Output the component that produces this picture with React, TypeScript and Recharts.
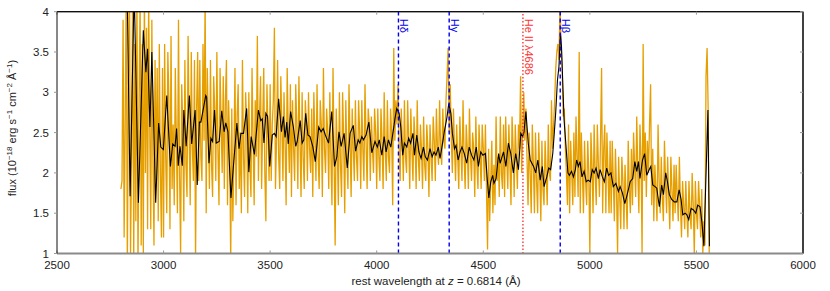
import React from 'react';
import { LineChart, Line, XAxis, YAxis, ReferenceLine } from 'recharts';

const FONT = '"Liberation Sans", Arial, sans-serif';

// raw spectrum, sampled every 5 Å from 2800 Å (rest frame)
const rawStart = 2800;
const rawStep = 5;
const rawFlux = [
  1.8, 1.9, 3.9, 1.2, 2.6, 4.4, 0.8, 3.1, 4.5, 1.0, 2.2, 4.4, 0.9, 3.6, 1.4, 4.3, 0.8, 2.9, 4.2, 1.1,
  3.6, 1.0, 4.3, 2.0, 3.8, 1.3, 4.2, 2.6, 1.3, 3.9, 2.2, 1.1, 3.4, 1.9, 3.3, 1.4, 3.6, 2.0, 1.2, 3.3,
  1.2, 3.6, 2.2, 1.5, 3.5, 2.9, 1.3, 3.7, 1.8, 2.6, 1.6, 3.3, 2.4, 1.5, 3.9, 2.0, 1.0, 3.1, 2.6, 1.4,
  3.4, 2.1, 1.7, 3.7, 2.5, 1.6, 3.5, 2.3, 1.9, 3.4, 0.9, 2.8, 3.5, 1.9, 3.4, 2.2, 1.9, 3.6, 2.4, 4.2,
  1.5, 3.3, 2.6, 1.8, 3.4, 2.1, 1.7, 3.2, 2.8, 1.9, 3.5, 2.3, 1.6, 3.3, 2.6, 2.0, 3.2, 1.8, 2.9, 3.4,
  1.6, 2.9, 2.4, 0.9, 2.8, 1.4, 2.2, 3.3, 1.6, 2.7, 3.1, 1.8, 2.5, 1.5, 3.4, 2.2, 1.7, 3.0, 2.6, 1.5,
  3.0, 2.1, 1.7, 3.3, 2.4, 1.6, 2.9, 2.2, 3.7, 1.9, 2.7, 3.2, 1.8, 2.6, 3.3, 2.0, 1.4, 3.1, 2.5, 1.9,
  3.1, 1.9, 2.6, 2.9, 3.8, 1.8, 2.4, 3.4, 2.2, 1.8, 3.2, 2.6, 1.9, 3.0, 2.4, 1.6, 3.3, 2.5, 2.0, 3.1,
  1.7, 2.9, 2.3, 1.9, 3.1, 2.6, 1.8, 3.2, 2.4, 1.7, 3.0, 2.2, 1.8, 2.9, 2.6, 1.9, 3.0, 2.3, 2.0, 2.8,
  1.7, 3.0, 2.4, 1.9, 3.1, 2.2, 1.8, 2.9, 2.6, 1.7, 3.3, 2.3, 2.0, 2.8, 2.5, 1.8, 3.0, 2.2, 1.6, 3.3,
  2.2, 1.1, 2.8, 2.3, 1.6, 3.0, 2.1, 1.7, 3.0, 2.4, 1.5, 2.9, 2.2, 1.8, 3.1, 2.4, 1.7, 2.8, 2.3, 1.9,
  2.9, 2.2, 1.9, 2.9, 2.5, 1.8, 2.9, 2.3, 1.9, 3.1, 2.4, 1.8, 2.8, 2.6, 1.9, 2.7, 2.3, 2.0, 2.8, 2.5,
  1.8, 2.8, 2.2, 1.9, 2.8, 2.4, 1.8, 3.0, 2.3, 1.9, 2.9, 2.2, 2.0, 2.8, 2.5, 1.6, 3.55, 2.4, 2.9, 2.6,
  3.1, 2.3, 1.9, 2.8, 2.4, 1.9, 2.9, 2.2, 2.0, 2.9, 2.4, 1.8, 2.8, 2.3, 1.9, 2.7, 2.4, 1.8, 2.9, 2.2,
  1.9, 2.6, 2.3, 1.8, 2.7, 2.1, 1.9, 2.6, 2.3, 1.7, 2.6, 2.2, 1.9, 2.7, 2.4, 1.9, 2.8, 2.3, 2.1, 2.9,
  2.3, 2.1, 2.8, 2.4, 2.3, 2.9, 3.2, 3.55, 2.5, 3.1, 2.4, 2.0, 2.8, 2.3, 1.9, 2.6, 2.2, 1.8, 2.7, 2.3,
  1.9, 2.9, 2.2, 1.8, 2.6, 2.3, 1.8, 2.8, 2.2, 1.9, 2.5, 2.3, 1.7, 2.7, 2.1, 1.8, 2.6, 2.2, 1.8, 2.6,
  2.3, 1.9, 2.6, 1.8, 1.05, 2.3, 1.4, 1.9, 2.4, 1.5, 2.1, 1.6, 2.7, 1.9, 2.2, 1.7, 2.7, 2.0, 1.8, 2.6,
  1.7, 2.7, 2.2, 1.8, 2.6, 2.1, 1.6, 2.7, 2.3, 1.7, 2.6, 2.2, 1.8, 2.6, 2.3, 3.2, 2.0, 2.5, 3.0, 2.4,
  2.8, 2.2, 1.6, 2.5, 2.0, 1.5, 2.6, 2.1, 1.5, 2.5, 1.9, 1.5, 2.5, 2.0, 1.4, 2.4, 1.8, 1.6, 2.4, 2.0,
  1.6, 2.6, 2.0, 1.9, 2.9, 2.3, 2.6, 2.9, 3.3, 3.5, 3.6, 3.4, 4.1, 3.6, 3.3, 2.7, 2.8, 2.3, 2.0, 1.6,
  2.6, 1.5, 2.4, 2.0, 1.6, 2.5, 1.7, 2.7, 2.2, 1.7, 3.5, 1.5, 2.5, 2.0, 1.5, 2.4, 1.9, 1.6, 2.4, 2.0,
  1.0, 2.5, 2.1, 1.5, 2.6, 2.0, 1.6, 2.6, 2.1, 1.7, 2.4, 3.3, 1.5, 2.3, 2.6, 1.5, 2.5, 2.0, 1.5, 2.4,
  1.5, 2.4, 1.9, 1.4, 2.3, 1.8, 1.0, 2.2, 1.7, 1.3, 2.2, 1.9, 1.3, 2.1, 1.7, 1.3, 2.4, 1.8, 1.5, 2.3,
  1.6, 2.5, 2.1, 1.7, 2.7, 2.0, 1.5, 2.6, 2.2, 1.0, 3.6, 1.9, 2.5, 1.7, 2.4, 2.0, 2.6, 3.1, 1.6, 2.3,
  1.4, 2.1, 1.8, 1.4, 2.6, 1.9, 1.5, 2.2, 1.7, 1.4, 2.4, 1.9, 1.5, 2.2, 1.7, 1.3, 2.2, 1.8, 1.4, 2.1,
  1.5, 2.1, 1.7, 1.4, 2.2, 1.6, 1.2, 1.9, 1.6, 1.3, 1.9, 1.5, 1.2, 1.9, 1.5, 1.3, 2.0, 1.6, 1.0, 1.9,
  1.5, 1.3, 1.9, 1.6, 1.2, 1.8, 1.0, 1.4, 1.1, 3.2, 3.55, 2.8, 1.0,
];

// smoothed spectrum
const smoothWave = [
  2829, 2843, 2862, 2882, 2905, 2917, 2925, 2936, 2945, 2963,
  2977, 2987, 2999, 3015, 3032, 3043, 3054, 3061, 3069, 3077,
  3088, 3095, 3106, 3121, 3132, 3148, 3158, 3168, 3175, 3198,
  3202, 3213, 3222, 3230, 3239, 3247, 3261, 3273, 3284, 3292,
  3302, 3316, 3330, 3344, 3354, 3363, 3375, 3390, 3400, 3411,
  3426, 3445, 3456, 3463, 3471, 3480, 3488, 3498, 3510, 3520,
  3528, 3540, 3553, 3562, 3570, 3578, 3585, 3596, 3609, 3620,
  3627, 3641, 3650, 3658, 3667, 3677, 3687, 3700, 3712, 3728,
  3739, 3749, 3759, 3774, 3789, 3802, 3813, 3823, 3833, 3847,
  3862, 3875, 3890, 3901, 3913, 3921, 3930, 3938, 3950, 3963,
  3977, 3992, 4003, 4012, 4024, 4035, 4044, 4055, 4066, 4078,
  4086, 4094, 4105, 4113, 4122, 4130, 4141, 4150, 4159, 4170,
  4177, 4188, 4198, 4208, 4219, 4228, 4238, 4250, 4260, 4269,
  4278, 4289, 4297, 4306, 4317, 4329, 4338, 4348, 4355, 4365,
  4372, 4382, 4391, 4400, 4411, 4422, 4434, 4445, 4456, 4467,
  4477, 4488, 4498, 4510, 4519, 4526, 4535, 4544, 4550, 4560,
  4572, 4579, 4595, 4606, 4618, 4629, 4641, 4652, 4665, 4676,
  4685, 4691, 4700, 4711, 4720, 4736, 4746, 4756, 4767, 4777,
  4785, 4798, 4807, 4816, 4826, 4833, 4840, 4848, 4855, 4862,
  4867, 4873, 4879, 4887, 4897, 4904, 4914, 4923, 4932, 4938,
  4946, 4954, 4963, 4973, 4983, 4992, 5002, 5011, 5020, 5029,
  5040, 5048, 5059, 5068, 5079, 5088, 5099, 5110, 5122, 5134,
  5142, 5153, 5164, 5173, 5184, 5189, 5201, 5211, 5220, 5228,
  5235, 5247, 5257, 5267, 5278, 5286, 5295, 5306, 5314, 5326,
  5337, 5345, 5356, 5364, 5373, 5384, 5396, 5408, 5419, 5428,
  5436, 5447, 5455, 5464, 5475, 5486, 5497, 5506, 5517, 5526,
  5535, 5554, 5561,
];
const smoothFlux = [
  4.3, 1.71, 4.3, 1.63, 3.77, 3.25, 3.54, 2.57, 3.5, 1.63,
  2.62, 2.32, 2.29, 2.96, 2.08, 2.36, 2.33, 2.55, 2.09, 2.33,
  2.09, 2.78, 2.33, 2.96, 2.36, 2.78, 1.85, 2.63, 2.63, 2.96,
  2.94, 2.12, 2.43, 2.39, 2.78, 2.37, 2.39, 2.77, 2.51, 2.62,
  2.51, 1.69, 2.16, 2.62, 2.3, 2.49, 2.49, 2.8, 2.01, 2.45,
  2.23, 2.78, 2.65, 2.67, 2.37, 2.74, 2.7, 2.08, 2.47, 2.49,
  2.45, 2.92, 2.51, 2.7, 2.44, 2.63, 2.36, 2.76, 2.57, 2.33,
  2.39, 2.65, 2.37, 2.41, 2.74, 2.47, 2.45, 2.33, 2.14, 2.57,
  2.51, 2.55, 2.47, 2.37, 2.76, 2.08, 2.2, 2.51, 2.33, 2.49,
  2.06, 2.49, 2.59, 2.27, 2.41, 2.37, 2.45, 2.41, 2.47, 2.63,
  2.25, 2.39, 2.32, 2.41, 2.22, 2.45, 2.26, 2.41, 2.32, 2.53,
  2.68, 2.8, 2.74, 2.57, 2.22, 2.37, 2.32, 2.43, 2.37, 2.49,
  2.22, 2.47, 2.26, 2.18, 2.32, 2.2, 2.16, 2.3, 2.2, 2.26,
  2.22, 2.32, 2.18, 2.32, 2.51, 2.68, 2.86, 2.74, 2.49, 2.3,
  2.34, 2.16, 2.26, 2.32, 2.24, 2.12, 2.32, 2.22, 2.16, 2.32,
  2.08, 2.26, 2.22, 2.24, 1.91, 1.69, 1.89, 1.97, 1.87, 1.93,
  2.24, 2.12, 2.26, 2.08, 2.37, 2.24, 2.0, 2.24, 2.04, 2.49,
  2.45, 2.51, 2.76, 2.37, 2.16, 2.08, 2.0, 2.16, 1.91, 2.08,
  1.83, 1.95, 2.06, 2.04, 2.24, 2.49, 2.76, 3.15, 3.32, 3.73,
  3.56, 3.11, 2.66, 2.37, 2.0, 1.97, 2.02, 1.95, 2.04, 2.16,
  2.08, 2.14, 1.95, 2.02, 1.89, 1.91, 1.89, 2.04, 2.0, 2.06,
  1.93, 2.04, 1.95, 1.89, 2.06, 1.97, 2.0, 1.83, 1.87, 1.77,
  1.83, 1.75, 1.62, 1.71, 1.83, 1.89, 1.93, 2.14, 2.02, 2.14,
  1.93, 2.16, 2.24, 1.97, 2.04, 2.08, 1.85, 1.83, 1.81, 1.58,
  1.85, 1.73, 2.0, 1.89, 1.73, 1.67, 1.64, 1.64, 1.79, 1.67,
  1.48, 1.5, 1.48, 1.42, 1.56, 1.54, 1.5, 1.6, 1.58, 1.38,
  1.09, 2.78, 1.09,
];

const xTicks = [2500, 3000, 3500, 4000, 4500, 5000, 5500, 6000];
const yTicks = [1, 1.5, 2, 2.5, 3, 3.5, 4];

const lineNames = ['Hδ', 'Hγ', 'He II λ4686', 'Hβ'];
const lineWaves = [4102, 4340, 4686, 4861];
const lineColors = ['#0000ee', '#0000ee', '#ff3333', '#0000ee'];
const lineDashes = ['4 3', '4 3', '1.5 2', '4 3'];

const rawData = rawFlux.map((f, i) => ({ wl: rawStart + i * rawStep, flux: f }));
const smoothData = smoothWave.map((w, i) => ({ wl: w, flux: smoothFlux[i] }));

const LineTag = (props: any) => {
  const { viewBox, text, color } = props;
  if (!viewBox) return null;
  const x = viewBox.x + 2;
  const y = viewBox.y + 7;
  return (
    <text x={x} y={y} transform={`rotate(90, ${x}, ${y})`} fill={color} fontSize={11} fontFamily={FONT}>
      {text}
    </text>
  );
};

const FluxLabel = () => (
  <text x={15.5} y={128} transform="rotate(-90, 15.5, 128)" textAnchor="middle" fontSize={11} fontFamily={FONT} fill="#222">
    flux (10<tspan dy={-4} fontSize={8}>−18</tspan>
    <tspan dy={4}> erg s</tspan>
    <tspan dy={-4} fontSize={8}>−1</tspan>
    <tspan dy={4}> cm</tspan>
    <tspan dy={-4} fontSize={8}>−2</tspan>
    <tspan dy={4}> Å</tspan>
    <tspan dy={-4} fontSize={8}>−1</tspan>
    <tspan dy={4}>)</tspan>
  </text>
);

const WaveLabel = () => (
  <text x={436} y={285} textAnchor="middle" fontSize={11.5} fontFamily={FONT} fill="#222">
    rest wavelength at <tspan fontStyle="italic">z</tspan> = 0.6814 (Å)
  </text>
);

const tickStyle = { fontSize: 11.5, fontFamily: FONT, fill: '#222' };
const noTick = () => <g />;

export default function App() {
  return (
    <div style={{ position: 'absolute', left: 0, top: 0, width: 830, height: 291, background: '#fff' }}>
      <LineChart width={830} height={291} margin={{ top: 10.7, right: 26, bottom: 0, left: 0 }}>
        <XAxis
          type="number"
          dataKey="wl"
          domain={[2500, 6000]}
          ticks={xTicks}
          allowDataOverflow
          height={37.5}
          tickSize={-3}
          tickMargin={10.8}
          axisLine={{ stroke: '#8a8a8a', strokeWidth: 2 }}
          tickLine={{ stroke: '#999' }}
          tick={tickStyle}
          label={<WaveLabel />}
        />
        <XAxis
          xAxisId="top"
          orientation="top"
          type="number"
          dataKey="wl"
          domain={[2500, 6000]}
          ticks={xTicks}
          allowDataOverflow
          height={1}
          tickSize={-3}
          tickMargin={0}
          tick={noTick}
          axisLine={{ stroke: '#111' }}
          tickLine={{ stroke: '#999' }}
        />
        <YAxis
          type="number"
          domain={[1, 4]}
          ticks={yTicks}
          allowDataOverflow
          width={57}
          tickSize={3}
          tickMargin={5}
          axisLine={{ stroke: '#111' }}
          tickLine={{ stroke: '#999' }}
          tick={tickStyle}
          label={<FluxLabel />}
        />
        <YAxis
          yAxisId="right"
          orientation="right"
          type="number"
          domain={[1, 4]}
          ticks={yTicks}
          allowDataOverflow
          width={1}
          tickSize={-3}
          tickMargin={0}
          tick={noTick}
          axisLine={{ stroke: '#111' }}
          tickLine={{ stroke: '#999' }}
        />
        <Line
          data={rawData}
          dataKey="flux"
          stroke="#E69F00"
          strokeWidth={1.3}
          dot={false}
          isAnimationActive={false}
        />
        <Line
          data={smoothData}
          dataKey="flux"
          stroke="#000"
          strokeWidth={1.1}
          dot={false}
          isAnimationActive={false}
        />
        {/* invisible copy that ties the frame axes (top / right) to data */}
        <Line
          data={smoothData}
          dataKey="flux"
          xAxisId="top"
          yAxisId="right"
          stroke="none"
          dot={false}
          activeDot={false}
          isAnimationActive={false}
        />
        {/* plot frame along the top and right edges */}
        <ReferenceLine y={4} stroke="#111" strokeWidth={1.2} />
        <ReferenceLine x={6000} stroke="#111" strokeWidth={1.2} />
        {lineWaves.map((w, i) => (
          <ReferenceLine
            key={lineNames[i]}
            x={w}
            stroke={lineColors[i]}
            strokeWidth={1.4}
            strokeDasharray={lineDashes[i]}
            label={<LineTag text={lineNames[i]} color={lineColors[i]} />}
          />
        ))}
      </LineChart>
    </div>
  );
}
